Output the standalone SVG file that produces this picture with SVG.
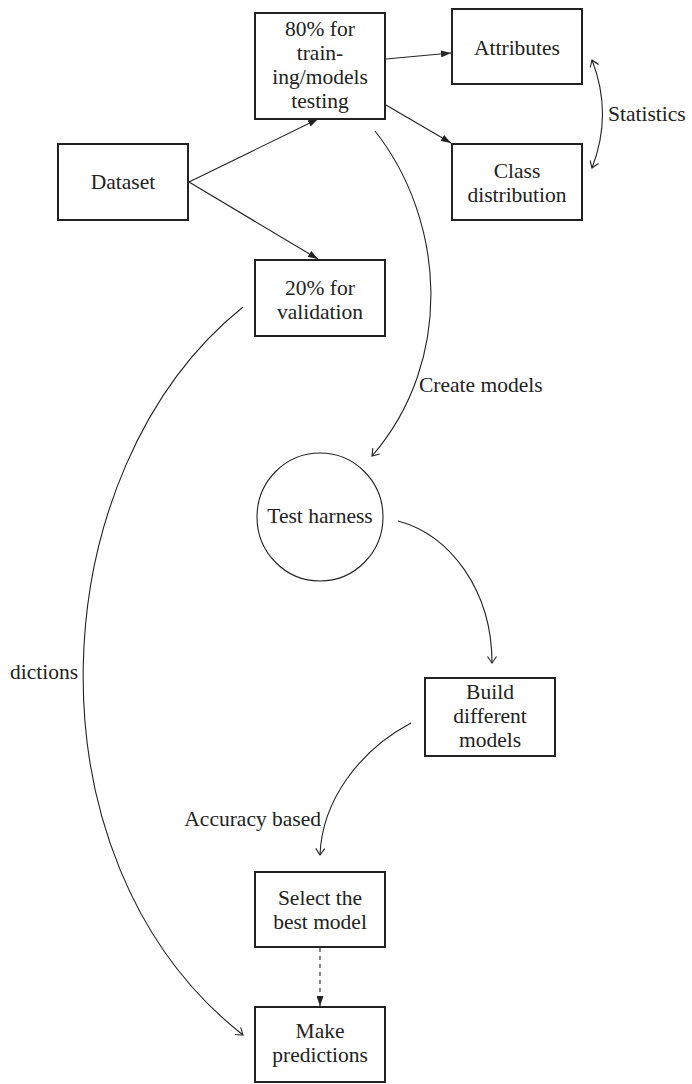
<svg xmlns="http://www.w3.org/2000/svg" width="692" height="1084" viewBox="0 0 692 1084">
<style>
.box{fill:#fff;stroke:#222;stroke-width:2}
.ntext{font-family:'Liberation Serif','Times New Roman',serif;font-size:21.5px;fill:#222;text-anchor:middle}
.elabel{font-family:'Liberation Serif','Times New Roman',serif;font-size:21.5px;fill:#222}
.conn{fill:none;stroke:#222;stroke-width:1.1}
</style>
<defs>
<marker id="tri" viewBox="0 0 10 7" refX="10" refY="3.5" markerWidth="10" markerHeight="7" markerUnits="userSpaceOnUse" orient="auto">
<path d="M0,0 L10,3.5 L0,7 z" fill="#222"/>
</marker>
<marker id="to" viewBox="-8 -5 9 10" refX="0" refY="0" markerWidth="9" markerHeight="10" markerUnits="userSpaceOnUse" orient="auto-start-reverse">
<path d="M-6.5,-4.5 Q-1.5,-1 0,0 Q-1.5,1 -6.5,4.5" fill="none" stroke="#222" stroke-width="1.1"/>
</marker>
</defs>

<g id="connectors">
<line class="conn" x1="189" y1="182" x2="318" y2="119" marker-end="url(#tri)"/>
<line class="conn" x1="189" y1="182" x2="318" y2="259" marker-end="url(#tri)"/>
<line class="conn" x1="386" y1="59" x2="451" y2="53" marker-end="url(#tri)"/>
<line class="conn" x1="386" y1="105" x2="451" y2="143" marker-end="url(#tri)"/>
<path class="conn" d="M592,60 Q613,114 592,168" marker-start="url(#to)" marker-end="url(#to)"/>
<path class="conn" d="M375,131 C445,220 455,360 372,456" marker-end="url(#to)"/>
<path class="conn" d="M398,521 C450,535 492,590 492,663" marker-end="url(#to)"/>
<path class="conn" d="M411,723 C360,750 322,800 320,855" marker-end="url(#to)"/>
<path class="conn" d="M243,307 C40,470 20,860 243,1035" marker-end="url(#to)"/>
<line class="conn" x1="320" y1="948" x2="320" y2="1006" stroke-dasharray="4,4" marker-end="url(#tri)"/>
<text class="elabel" x="608" y="121">Statistics</text>
<text class="elabel" x="419" y="392">Create models</text>
<text class="elabel" x="10" y="679">dictions</text>
<text class="elabel" x="321" y="826" text-anchor="end">Accuracy based</text>
</g>

<g id="dataset">
<rect class="box" x="58" y="144" width="130" height="76"/>
<text class="ntext" x="123" y="189">Dataset</text>
</g>
<g id="training">
<rect class="box" x="255" y="13" width="130" height="106"/>
<text class="ntext" x="320" y="36">80% for</text>
<text class="ntext" x="320" y="60">train-</text>
<text class="ntext" x="320" y="84">ing/models</text>
<text class="ntext" x="320" y="108">testing</text>
</g>
<g id="attributes">
<rect class="box" x="452" y="9" width="130" height="75"/>
<text class="ntext" x="517" y="55">Attributes</text>
</g>
<g id="classdist">
<rect class="box" x="452" y="144" width="130" height="76"/>
<text class="ntext" x="517" y="178">Class</text>
<text class="ntext" x="517" y="202">distribution</text>
</g>
<g id="validation">
<rect class="box" x="255" y="260" width="130" height="76"/>
<text class="ntext" x="320" y="295">20% for</text>
<text class="ntext" x="320" y="319">validation</text>
</g>
<g id="harness">
<ellipse cx="320" cy="517" rx="63" ry="64" fill="#fff" stroke="#222" stroke-width="1.1"/>
<text class="ntext" x="320" y="523">Test harness</text>
</g>
<g id="build">
<rect class="box" x="425" y="678" width="130" height="78"/>
<text class="ntext" x="490" y="699">Build</text>
<text class="ntext" x="490" y="723">different</text>
<text class="ntext" x="490" y="747">models</text>
</g>
<g id="select">
<rect class="box" x="255" y="872" width="130" height="75"/>
<text class="ntext" x="320" y="905">Select the</text>
<text class="ntext" x="320" y="929">best model</text>
</g>
<g id="predict">
<rect class="box" x="255" y="1007" width="130" height="75"/>
<text class="ntext" x="320" y="1038">Make</text>
<text class="ntext" x="320" y="1062">predictions</text>
</g>
</svg>
